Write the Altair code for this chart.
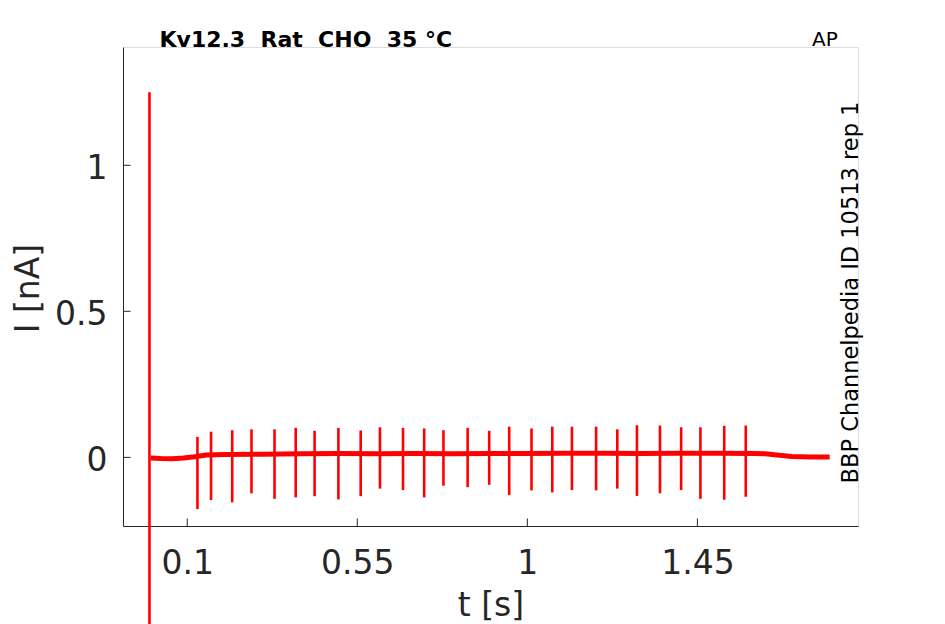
import altair as alt
import pandas as pd

# ---- data ----
spike_t = [0.127, 0.163, 0.219, 0.270, 0.331, 0.387, 0.437, 0.500, 0.559, 0.610,
           0.671, 0.727, 0.778, 0.842, 0.899, 0.952, 1.011, 1.066, 1.118, 1.182,
           1.238, 1.290, 1.351, 1.407, 1.458, 1.521, 1.578]
spike_peak = [0.070, 0.088, 0.093, 0.096, 0.096, 0.101, 0.091, 0.101, 0.092, 0.103,
              0.101, 0.099, 0.093, 0.101, 0.091, 0.105, 0.099, 0.105, 0.105, 0.105,
              0.096, 0.110, 0.109, 0.103, 0.103, 0.108, 0.109]
spike_trough = [-0.177, -0.146, -0.154, -0.123, -0.142, -0.137, -0.133, -0.144, -0.133, -0.107,
                -0.112, -0.137, -0.097, -0.102, -0.094, -0.129, -0.113, -0.120, -0.112, -0.113,
                -0.107, -0.132, -0.123, -0.112, -0.142, -0.145, -0.135]

base_t = [0.003, 0.03, 0.06, 0.09, 0.12, 0.15, 0.20, 0.30, 0.40, 0.50, 0.60, 0.70,
          0.80, 0.90, 1.00, 1.10, 1.20, 1.30, 1.40, 1.50, 1.60, 1.63, 1.66, 1.70,
          1.75, 1.80]
base_v = [-0.002, -0.004, -0.005, -0.002, 0.002, 0.008, 0.010, 0.011, 0.012, 0.013,
          0.012, 0.013, 0.012, 0.013, 0.013, 0.014, 0.014, 0.013, 0.014, 0.014,
          0.013, 0.012, 0.008, 0.003, 0.001, 0.001]

artifact_t = [0.0]
artifact_top = [1.25]
artifact_bottom = [-0.80]

x_ticks = [0.1, 0.55, 1, 1.45]
y_ticks = [0, 0.5, 1]

title_text = ["Kv12.3\u00a0 Rat\u00a0 CHO\u00a0 35 \u00b0C"]
corner_text = ["AP"]
side_text = ["BBP Channelpedia ID 10513 rep 1"]

# ---- layout ----
W, H = 735, 479
FONT = "DejaVu Sans"
AX = "#262626"
RED = "#ff0000"

xs = alt.Scale(domain=[-0.07, 1.875], nice=False, zero=False)
ys = alt.Scale(domain=[-0.235, 1.405], nice=False, zero=False)

x_axis = alt.Axis(values=x_ticks, format=".3~g", ticks=False, grid=False,
                  labelFont=FONT, labelFontSize=33, labelColor=AX, labelPadding=21,
                  labelFlush=False, labelOverlap=False,
                  domainColor=AX, domainWidth=1,
                  title="t [s]", titleFont=FONT, titleFontSize=33,
                  titleFontWeight="normal", titleColor=AX,
                  titleBaseline="alphabetic", titleY=89)
y_axis = alt.Axis(values=y_ticks, format=".3~g", ticks=False, grid=False,
                  labelFont=FONT, labelFontSize=33, labelColor=AX, labelPadding=16,
                  labelOffset=3, labelFlush=False, labelOverlap=False,
                  domainColor=AX, domainWidth=1,
                  title="I [nA]", titleFont=FONT, titleFontSize=33,
                  titleFontWeight="normal", titleColor=AX, titleAngle=270,
                  titleBaseline="alphabetic", titleAlign="center",
                  titleX=-85, titleY=241)

base_df = pd.DataFrame({"t": base_t, "I": base_v})
spike_df = pd.DataFrame({"t": spike_t, "peak": spike_peak, "trough": spike_trough})
art_df = pd.DataFrame({"t": artifact_t, "top": artifact_top, "bottom": artifact_bottom})
xt_df = pd.DataFrame({"t": x_ticks})
yt_df = pd.DataFrame({"I": y_ticks})

baseline = alt.Chart(base_df).mark_line(color=RED, strokeWidth=5).encode(
    x=alt.X("t:Q", scale=xs, axis=x_axis),
    y=alt.Y("I:Q", scale=ys, axis=y_axis),
)

spikes = alt.Chart(spike_df).mark_rule(color=RED, strokeWidth=2.6).encode(
    x=alt.X("t:Q", scale=xs, axis=x_axis),
    y=alt.Y("peak:Q", scale=ys, axis=y_axis),
    y2="trough:Q",
)

artifact = alt.Chart(art_df).mark_rule(color=RED, strokeWidth=2.6, clip=False).encode(
    x=alt.X("t:Q", scale=xs, axis=x_axis),
    y=alt.Y("top:Q", scale=ys, axis=y_axis),
    y2="bottom:Q",
)

xticks = alt.Chart(xt_df).mark_rule(color=AX, strokeWidth=1).encode(
    x=alt.X("t:Q", scale=xs, axis=x_axis),
    y=alt.value(H),
    y2=alt.value(H - 7.5),
)

yticks = alt.Chart(yt_df).mark_rule(color=AX, strokeWidth=1).encode(
    y=alt.Y("I:Q", scale=ys, axis=y_axis),
    x=alt.value(0),
    x2=alt.value(7.5),
)

title = alt.Chart(pd.DataFrame({"label": title_text})).mark_text(
    font=FONT, fontSize=22, fontWeight="bold", color="#000000", align="left",
    baseline="alphabetic"
).encode(text="label:N", x=alt.value(36.5), y=alt.value(0.3))

corner = alt.Chart(pd.DataFrame({"label": corner_text})).mark_text(
    font=FONT, fontSize=20, color="#000000", align="left", baseline="alphabetic"
).encode(text="label:N", x=alt.value(689), y=alt.value(-1))

side = alt.Chart(pd.DataFrame({"label": side_text})).mark_text(
    font=FONT, fontSize=22.5, color="#000000", align="center", baseline="alphabetic",
    angle=270
).encode(text="label:N", x=alt.value(734.5), y=alt.value(245.5))

chart = alt.layer(baseline, spikes, artifact, xticks, yticks, title, corner, side).properties(
    width=W,
    height=H,
    autosize=alt.AutoSizeParams(type="none"),
    padding={"left": 115, "top": 39, "right": 70, "bottom": 98},
).configure_view(stroke=None).configure(background="white")

chart.save("out.html", embed_options={"renderer": "svg", "actions": False})
